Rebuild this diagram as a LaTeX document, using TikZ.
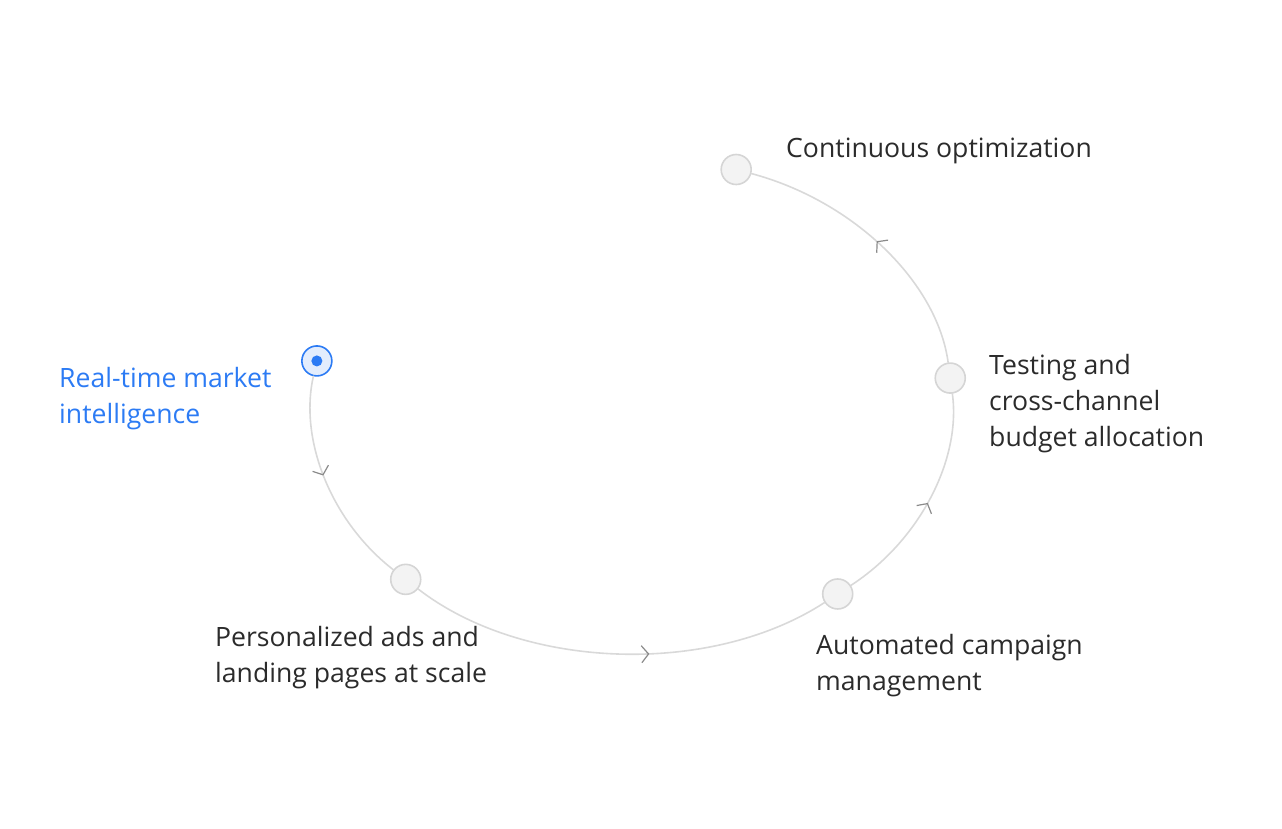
\documentclass[tikz,border=0pt]{standalone}
\usepackage{fontspec}
\setmainfont{Open Sans}
\usepackage{tikz}
\usetikzlibrary{
  arrows.meta,
  calc,
  decorations.markings
}
\definecolor{LoopLine}{HTML}{D9D9D9}
\definecolor{LoopChevron}{HTML}{8A8A8A}
\definecolor{StepFill}{HTML}{F3F3F3}
\definecolor{StepRing}{HTML}{D5D5D5}
\definecolor{ActiveBlue}{HTML}{2C7BF4}
\definecolor{ActiveFill}{HTML}{E3EDFD}
\definecolor{LabelInk}{HTML}{2B2B2B}
\tikzset{
  every picture/.style = {line join=round, line cap=round},
  step dot/.style = {
    circle,
    draw=StepRing,
    fill=StepFill,
    line width=1.6pt,
    minimum size=30pt,
    inner sep=0pt
  },
  step active/.style = {step dot, draw=ActiveBlue, fill=ActiveFill},
  active core/.style = {circle, fill=ActiveBlue, minimum size=11pt, inner sep=0pt},
  loop flow/.style = {
    draw=LoopLine,
    line width=1.6pt,
    postaction={decorate},
    decoration={markings,
      mark=at position #1 with {\arrow[LoopChevron, line width=1.2pt]{Straight Barb[length=7pt,width=17pt]}}}
  },
  loop flow/.default=0.5,
  step label/.style = {
    font=\fontsize{26.6}{36}\selectfont,
    text=LabelInk,
    align=left,
    anchor=base west,
    inner sep=0pt
  },
  step label active/.style = {step label, text=ActiveBlue},
}

\begin{document}
\begin{tikzpicture}[x=1pt,y=1pt]
  \useasboundingbox (0,0) rectangle (1282,828);
  \coordinate (hub) at (632,424);

  % steps on the loop
  \node[step active] (intel) at ($(hub)+(170:320 and 248)$) {};
  \node[active core] (intelcore) at (intel) {};
  \node[step dot] (personal) at ($(hub)+(225:320 and 248)$) {};
  \node[step dot] (automate) at ($(hub)+(310:320 and 248)$) {};
  \node[step dot] (testing) at ($(hub)+(6:320 and 248)$) {};
  \node[step dot] (optimize) at ($(hub)+(71:320 and 248)$) {};

  \draw[loop flow=0.46] (intel) .. controls +(-18.1,-79.7) and +(-73.8,57.2) .. (personal);
  \draw[loop flow=0.57] (personal) .. controls +(117.3,-90.9) and +(-127.1,-82.6) .. (automate);
  \draw[loop flow] (automate) .. controls +(81.5,53.0) and +(11.1,-82.0) .. (testing);
  \draw[loop flow] (testing) .. controls +(-13.0,95.8) and +(117.6,-31.4) .. (optimize);

  % labels (base = last line)
  \node[step label active] (intellabel) at (59,404) {Real-time market\\intelligence};
  \node[step label] (perslabel) at (215,146) {Personalized ads and\\landing pages at scale};
  \node[step label] (autolabel) at (816,138) {Automated campaign\\management};
  \node[step label] (testlabel) at (989,381) {Testing and\\cross-channel\\budget allocation};
  \node[step label] (optlabel) at (786,670) {Continuous optimization};
\end{tikzpicture}
\end{document}
